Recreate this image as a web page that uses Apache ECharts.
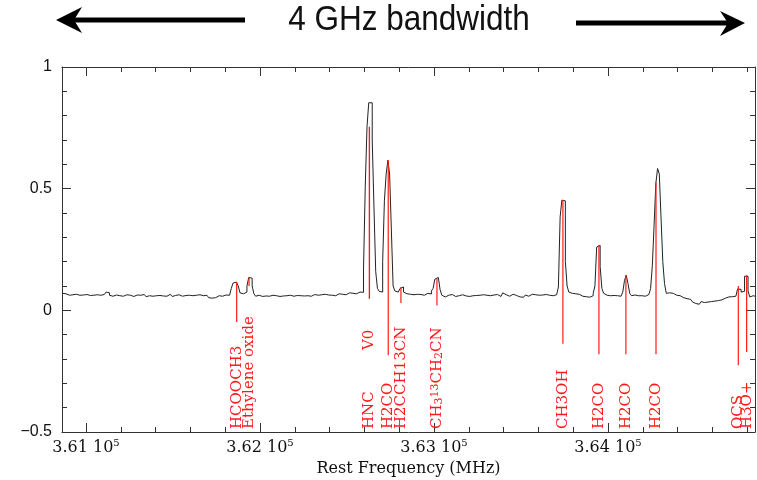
<!DOCTYPE html>
<html lang="en">
<head>
    <meta charset="UTF-8">
    <title>4 GHz bandwidth</title>
    <script src="https://cdn.jsdelivr.net/npm/echarts@6/dist/echarts.min.js"></script>
    <style>
        html, body { margin: 0; padding: 0; background: #fff; }
        #main { width: 757px; height: 480px; }
    </style>
</head>
<body>
<div id="main"></div>
<script>
    // spectrum channels: first channel and channel width (MHz)
    var specStart = 360865;
    var specStep = 10;

    // intensity, one row = 20 channels (200 MHz)
    var intensity = [
        0.07, 0.068, 0.06, 0.062, 0.058, 0.064, 0.06, 0.066, 0.058, 0.062, 0.057, 0.063, 0.06, 0.065, 0.059, 0.061, 0.056, 0.062, 0.06, 0.064,
        0.058, 0.062, 0.06, 0.065, 0.068, 0.075, 0.072, 0.062, 0.058, 0.06, 0.063, 0.057, 0.06, 0.062, 0.058, 0.061, 0.064, 0.059, 0.062, 0.06,
        0.057, 0.06, 0.063, 0.058, 0.062, 0.059, 0.065, 0.061, 0.056, 0.06, 0.064, 0.058, 0.062, 0.06, 0.055, 0.061, 0.063, 0.059, 0.062, 0.058,
        0.06, 0.066, 0.062, 0.057, 0.061, 0.059, 0.064, 0.06, 0.058, 0.063, 0.061, 0.057, 0.062, 0.065, 0.06, 0.058, 0.062, 0.06, 0.064, 0.059,
        0.06, 0.058, 0.062, 0.055, 0.052, 0.05, 0.047, 0.052, 0.056, 0.06, 0.062, 0.058, 0.061, 0.063, 0.06, 0.062, 0.066, 0.09, 0.112, 0.116,
        0.114, 0.1, 0.072, 0.068, 0.07, 0.075, 0.1, 0.135, 0.132, 0.1, 0.068, 0.058, 0.062, 0.06, 0.057, 0.061, 0.059, 0.063, 0.058, 0.06,
        0.062, 0.058, 0.06, 0.063, 0.057, 0.061, 0.059, 0.064, 0.06, 0.056, 0.062, 0.06, 0.058, 0.063, 0.061, 0.057, 0.06, 0.064, 0.059, 0.062,
        0.06, 0.063, 0.058, 0.061, 0.065, 0.06, 0.062, 0.058, 0.064, 0.061, 0.066, 0.06, 0.063, 0.067, 0.062, 0.065, 0.06, 0.064, 0.068, 0.063,
        0.066, 0.07, 0.064, 0.068, 0.072, 0.066, 0.07, 0.074, 0.068, 0.072, 0.075, 0.07, 0.074, 0.17, 0.51, 0.754, 0.853, 0.853, 0.70, 0.425,
        0.16, 0.09, 0.078, 0.075, 0.2, 0.45, 0.56, 0.617, 0.56, 0.33, 0.1, 0.08, 0.075, 0.078, 0.09, 0.096, 0.075, 0.068, 0.07, 0.066,
        0.068, 0.064, 0.07, 0.066, 0.072, 0.065, 0.068, 0.062, 0.066, 0.07, 0.064, 0.067, 0.08, 0.09, 0.128, 0.135, 0.133, 0.085, 0.062, 0.055,
        0.058, 0.062, 0.06, 0.065, 0.061, 0.057, 0.063, 0.06, 0.058, 0.064, 0.062, 0.059, 0.061, 0.057, 0.063, 0.06, 0.065, 0.061, 0.058, 0.062,
        0.06, 0.064, 0.059, 0.062, 0.066, 0.06, 0.058, 0.063, 0.061, 0.065, 0.06, 0.057, 0.062, 0.072, 0.064, 0.061, 0.058, 0.062, 0.066, 0.06,
        0.061, 0.058, 0.055, 0.05, 0.054, 0.06, 0.063, 0.058, 0.061, 0.066, 0.06, 0.064, 0.059, 0.062, 0.067, 0.063, 0.06, 0.065, 0.068, 0.062,
        0.062, 0.06, 0.066, 0.064, 0.07, 0.096, 0.384, 0.453, 0.45, 0.2, 0.1, 0.075, 0.07, 0.072, 0.068, 0.064, 0.066, 0.06, 0.058, 0.055,
        0.056, 0.058, 0.054, 0.058, 0.06, 0.07, 0.1, 0.26, 0.267, 0.18, 0.09, 0.07, 0.062, 0.058, 0.06, 0.057, 0.061, 0.058, 0.06, 0.062,
        0.058, 0.062, 0.075, 0.123, 0.144, 0.11, 0.07, 0.06, 0.063, 0.058, 0.06, 0.064, 0.06, 0.062, 0.058, 0.06, 0.065, 0.07, 0.09, 0.185,
        0.35, 0.52, 0.583, 0.56, 0.38, 0.2, 0.11, 0.07, 0.072, 0.068, 0.07, 0.065, 0.062, 0.058, 0.06, 0.055, 0.052, 0.054, 0.048, 0.05,
        0.045, 0.04, 0.035, 0.028, 0.032, 0.025, 0.03, 0.036, 0.032, 0.038, 0.034, 0.04, 0.036, 0.042, 0.038, 0.044, 0.04, 0.046, 0.043, 0.048,
        0.05, 0.052, 0.055, 0.05, 0.056, 0.053, 0.058, 0.06, 0.088, 0.086, 0.075, 0.078, 0.14, 0.14, 0.08, 0.055, 0.06, 0.058, 0.06
    ];

    // line identifications
    var lineNames = ['HCOOCH3', 'Ethylene oxide', 'HNC', 'V0', 'H2CO', 'H2CCH13CN',
        'CH{sub|3}{sup|13}CH{sub|2}CN', 'CH3OH', 'H2CO', 'H2CO', 'H2CO', 'OCS', 'H3O+'];
    var lineFreqs = [361866, 361937, 362629, 362629, 362737, 362810, 363017, 363741, 363948, 364103, 364276, 364749, 364797];
    var lineTops = [0.116, 0.135, 0.754, 0.754, 0.617, 0.096, 0.13, 0.453, 0.267, 0.144, 0.524, 0.10, 0.144];
    var lineBottoms = [-0.048, 0.10, 0.048, 0.048, -0.185, 0.03, 0.02, -0.137, -0.18, -0.18, -0.18, -0.226, -0.171];

    var xMin = 360862, xMax = 364845;
    var yMin = -0.5, yMax = 1, yStep = 0.5;

    var spec = intensity.map(function (v, i) {
        return [specStart + i * specStep, v];
    });
    var markers = lineFreqs.map(function (f, i) {
        return [f, lineTops[i], lineBottoms[i]];
    });

    var frame = '#333';
    var serif = 'DejaVu Serif';

    function xAxisOf(pos, labels) {
        return {
            type: 'value', position: pos, min: xMin, max: xMax, splitNumber: 4,
            axisLine: {show: true, onZero: false, lineStyle: {color: frame, width: 1}},
            axisTick: {show: true, inside: true, length: 9, lineStyle: {color: frame}},
            minorTick: {show: true, splitNumber: 5, length: 5, lineStyle: {color: frame}},
            splitLine: {show: false},
            axisLabel: {
                show: labels, margin: 6,
                formatter: function (v) {
                    if (v % 1000 !== 0) return '';
                    return '{a|' + (v / 1e5).toFixed(2) + ' 10}{s|5}';
                },
                rich: {
                    a: {fontFamily: serif, fontSize: 16, color: '#111', lineHeight: 20},
                    s: {fontFamily: serif, fontSize: 10, color: '#111', lineHeight: 10, verticalAlign: 'top'}
                }
            },
            name: labels ? 'Rest Frequency (MHz)' : '',
            nameLocation: 'middle', nameGap: 26,
            nameTextStyle: {fontFamily: serif, fontSize: 16, color: '#111'}
        };
    }

    function yAxisOf(pos, labels) {
        return {
            type: 'value', position: pos, min: yMin, max: yMax, interval: yStep,
            axisLine: {show: true, onZero: false, lineStyle: {color: frame, width: 1}},
            axisTick: {show: true, inside: true, length: 9, lineStyle: {color: frame}},
            minorTick: {show: true, splitNumber: 5, length: 5, lineStyle: {color: frame}},
            splitLine: {show: false},
            axisLabel: {
                show: labels, margin: 10,
                fontFamily: 'Liberation Sans', fontSize: 16, color: '#111',
                formatter: function (v) {
                    return v < 0 ? '\u2212' + (-v) : String(v);
                }
            }
        };
    }

    var chart = echarts.init(document.getElementById('main'));
    chart.setOption({
        animation: false,
        backgroundColor: '#fff',
        grid: {left: 62, top: 67, width: 693, height: 365, outerBoundsMode: 'none', containLabel: false},
        xAxis: [xAxisOf('bottom', true), xAxisOf('top', false)],
        yAxis: [yAxisOf('left', true), yAxisOf('right', false)],
        graphic: [
            {
                type: 'text', x: 409, y: 20, scaleX: 0.9,
                style: {text: '4 GHz bandwidth', fontFamily: 'Liberation Sans', fontSize: 35,
                    fill: '#111', align: 'center', verticalAlign: 'middle'}
            },
            {type: 'line', shape: {x1: 72, y1: 20, x2: 245, y2: 20}, style: {stroke: '#000', lineWidth: 5}},
            {type: 'polygon', shape: {points: [[56, 20], [82, 7], [74, 20], [82, 33]]}, style: {fill: '#000'}},
            {type: 'line', shape: {x1: 576, y1: 23, x2: 730, y2: 23}, style: {stroke: '#000', lineWidth: 5}},
            {type: 'polygon', shape: {points: [[745, 23], [720, 11], [728, 23], [720, 36]]}, style: {fill: '#000'}}
        ],
        series: [
            {
                type: 'line', data: spec, step: 'end', showSymbol: false,
                lineStyle: {color: '#222', width: 1}, z: 2
            },
            {
                type: 'custom', data: markers, z: 3,
                encode: {x: 0, y: [1, 2]},
                renderItem: function (params, api) {
                    var i = params.dataIndex;
                    var top = api.coord([api.value(0), api.value(1)]);
                    var bot = api.coord([api.value(0), api.value(2)]);
                    var base = api.coord([api.value(0), yMin]);
                    // a second name at the same frequency goes above the first
                    var lift = (i > 0 && lineFreqs[i] === lineFreqs[i - 1]) ? 79 : 0;
                    return {
                        type: 'group',
                        children: [
                            {
                                type: 'line',
                                shape: {x1: top[0], y1: top[1], x2: bot[0], y2: bot[1]},
                                style: {stroke: '#ff1a1a', lineWidth: 1.2}
                            },
                            {
                                type: 'text', x: base[0], y: base[1] - 3 - lift, rotation: Math.PI / 2,
                                style: {
                                    text: lineNames[i], fill: '#ff1a1a',
                                    fontFamily: serif, fontSize: 15,
                                    align: 'left', verticalAlign: 'middle',
                                    rich: {
                                        sub: {fontFamily: serif, fontSize: 11, fill: '#ff1a1a', lineHeight: 11, verticalAlign: 'bottom'},
                                        sup: {fontFamily: serif, fontSize: 11, fill: '#ff1a1a', lineHeight: 11, verticalAlign: 'top'}
                                    }
                                }
                            }
                        ]
                    };
                }
            }
        ]
    });
</script>
</body>
</html>
